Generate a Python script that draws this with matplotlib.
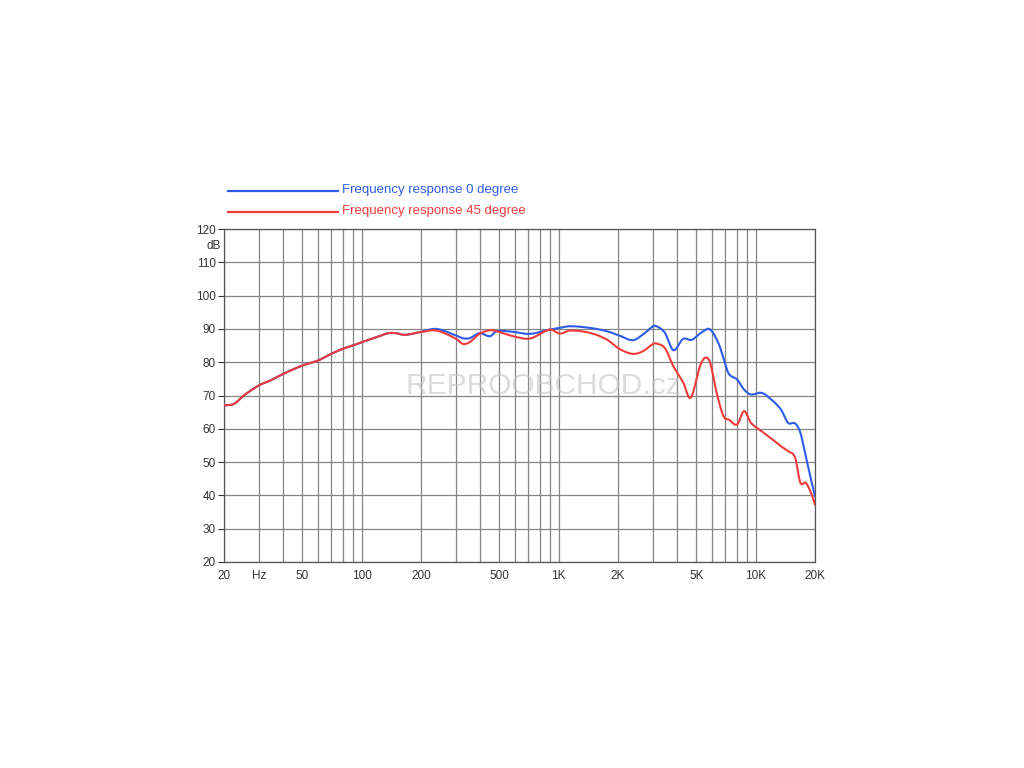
import matplotlib
matplotlib.use("Agg")
import matplotlib.pyplot as plt
import numpy as np

plt.rcParams['font.family'] = ['Liberation Sans', 'DejaVu Sans']

# 0 degree response (Hz, dB)
freq_0 = [20, 22.5, 25.2, 30, 34.4, 40, 50, 60, 70, 80, 90, 100, 119, 136, 150, 165, 197,
          239, 302, 326, 353, 396, 448, 484, 588, 714, 903, 1014, 1141, 1441, 1756, 2031,
          2377, 2676, 3013, 3141, 3462, 3820, 4279, 4725, 5212, 5421, 5859, 6462, 6859,
          7289, 8047, 8723, 9460, 10710, 11880, 13430, 14580, 15860, 16860, 17950, 19080, 20000]
db_0 = [67.0, 67.5, 70.0, 73.0, 74.5, 76.5, 79.0, 80.5, 82.5, 84.0, 85.0, 86.0, 87.5, 88.7, 88.7,
        88.2, 89.0, 90.0, 88.0, 87.2, 87.2, 88.7, 87.8, 89.3, 89.1, 88.5, 89.8, 90.3, 90.8,
        90.3, 89.3, 88.0, 86.6, 88.3, 90.8, 90.8, 88.8, 83.6, 87.0, 86.7, 88.6, 89.3, 89.9,
        85.8, 81.3, 76.6, 74.8, 71.8, 70.3, 70.8, 69.0, 65.8, 61.8, 61.6, 58.8, 51.8, 44.8, 39.8]

# 45 degree response (Hz, dB)
freq_45 = [20, 22.5, 25.2, 30, 34.4, 40, 50, 60, 70, 80, 90, 100, 119, 136, 150, 165, 197,
           239, 302, 326, 353, 396, 448, 484, 588, 714, 903, 1014, 1141, 1441, 1756, 2031,
           2377, 2676, 3013, 3141, 3462, 3820, 4279, 4674, 5212, 5526, 5859, 6338, 6859,
           7289, 8047, 8723, 9460, 10710, 11880, 13430, 14580, 15860, 16860, 17950, 19080, 20000]
db_45 = [67.0, 67.5, 70.0, 73.0, 74.5, 76.5, 79.0, 80.5, 82.5, 84.0, 85.0, 86.0, 87.5, 88.7, 88.7,
         88.2, 89.0, 89.5, 87.0, 85.5, 86.0, 88.5, 89.6, 89.3, 87.8, 87.1, 89.8, 88.6, 89.5,
         88.8, 86.8, 84.0, 82.5, 83.3, 85.5, 85.6, 84.2, 78.8, 74.0, 69.3, 78.8, 81.3, 80.0,
         70.8, 63.8, 62.8, 61.3, 65.3, 61.8, 59.3, 57.3, 54.8, 53.3, 51.3, 43.8, 43.8, 40.8, 37.3]

xtick_vals = [20, 30, 50, 100, 200, 500, 1000, 2000, 5000, 10000, 20000]
xtick_labels = ["20", "Hz", "50", "100", "200", "500", "1K", "2K", "5K", "10K", "20K"]
ytick_vals = [20, 30, 40, 50, 60, 70, 80, 90, 100, 110, 120]

fig = plt.figure(figsize=(10.24, 7.68), dpi=100)
ax = fig.add_axes([224/1024, 1-562/768, (815-224)/1024, (562-229)/768])

blue = "#2e5ce6"
red = "#ee3b3b"

def smooth(f, d, n=12):
    """Cubic Hermite (Catmull-Rom style) through the read points in log-frequency."""
    x = np.log10(np.asarray(f, float))
    y = np.asarray(d, float)
    m = np.zeros_like(y)
    m[1:-1] = (y[2:] - y[:-2]) / (x[2:] - x[:-2])
    m[0] = (y[1] - y[0]) / (x[1] - x[0])
    m[-1] = (y[-1] - y[-2]) / (x[-1] - x[-2])
    xs, ys = [], []
    for i in range(len(x) - 1):
        h = x[i+1] - x[i]
        t = np.linspace(0, 1, n, endpoint=False)
        h00 = 2*t**3 - 3*t**2 + 1
        h10 = t**3 - 2*t**2 + t
        h01 = -2*t**3 + 3*t**2
        h11 = t**3 - t**2
        xs.append(x[i] + t*h)
        ys.append(h00*y[i] + h10*h*m[i] + h01*y[i+1] + h11*h*m[i+1])
    xs.append([x[-1]]); ys.append([y[-1]])
    return 10**np.concatenate(xs), np.concatenate(ys)

fx, fy = smooth(freq_0, db_0)
ax.plot(fx, fy, color=blue, lw=1.5, zorder=3)
fx, fy = smooth(freq_45, db_45)
ax.plot(fx, fy, color=red, lw=1.5, zorder=4)

ax.set_xscale('log')
ax.set_xlim(20, 20000)
ax.set_ylim(20, 120)

grid_f = []
for dec in [10, 100, 1000, 10000]:
    for m in range(1, 10):
        v = m * dec
        if 20 <= v <= 20000:
            grid_f.append(v)
ax.set_xticks(grid_f, minor=False)
ax.set_xticklabels([xtick_labels[xtick_vals.index(v)] if v in xtick_vals else "" for v in grid_f])
ax.xaxis.set_minor_locator(matplotlib.ticker.NullLocator())
ax.set_yticks(ytick_vals)
ax.set_yticklabels([str(v) for v in ytick_vals])
ax.grid(True, which='major', color='#858585', lw=0.9)
ax.set_axisbelow(True)
for s in ax.spines.values():
    s.set_color('#555555')
    s.set_linewidth(0.9)
ax.tick_params(axis='x', length=0, pad=6, labelsize=8.5, colors='#333333')
ax.tick_params(axis='y', length=4, pad=2, labelsize=8.5, colors='#333333', width=0.8)
ax.text(-0.006, 0.95, "dB", transform=ax.transAxes, ha='right', va='center',
        fontsize=8.5, color='#333333')

# watermark
ax.text(0.307, 0.53, "REPROOBCHOD.cz", transform=ax.transAxes, ha='left', va='center',
        fontsize=21.5, color='#c4c4c4', alpha=0.6, zorder=2)

# legend above plot
fig.add_artist(plt.Line2D([228/1024, 338/1024], [1-191/768, 1-191/768], color=blue, lw=1.6))
fig.add_artist(plt.Line2D([228/1024, 338/1024], [1-212/768, 1-212/768], color=red, lw=1.6))
fig.text(342/1024, 1-190/768, "Frequency response 0 degree", color=blue, fontsize=9.5, va='center')
fig.text(342/1024, 1-211/768, "Frequency response 45 degree", color=red, fontsize=9.5, va='center')

fig.savefig("out.png", dpi=100, facecolor='white')
